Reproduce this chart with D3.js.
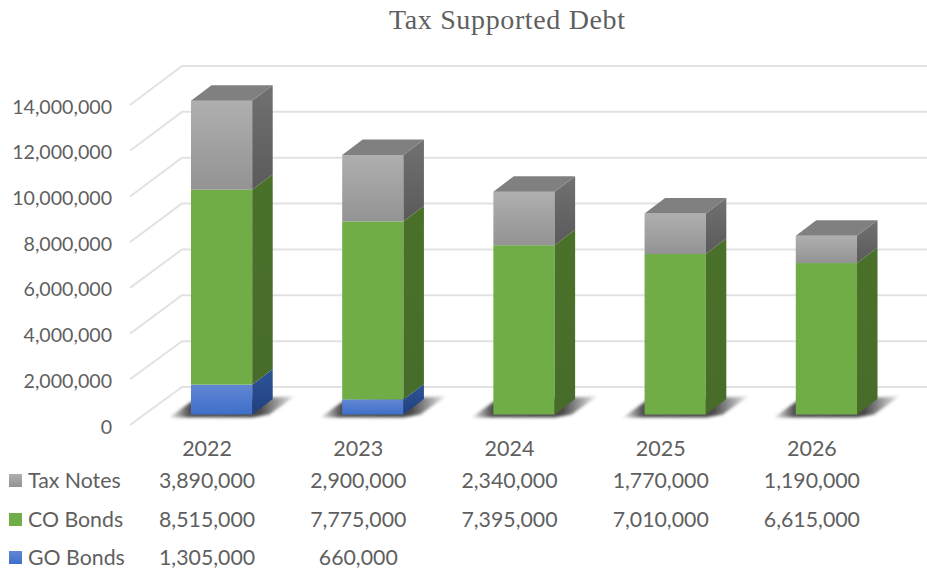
<!DOCTYPE html>
<html>
<head>
<meta charset="utf-8">
<script src="https://cdn.jsdelivr.net/npm/d3@7"></script>
<style>
html,body{margin:0;padding:0;background:#fff;}
svg{display:block;}
text{font-family:Lato,"Open Sans",sans-serif;fill:#5f5f5f;}
</style>
</head>
<body>
<svg id="chart" width="927" height="569"></svg>
<script>
// Stacked 3D column chart of tax supported debt with a data table beneath it
const years = ["2022", "2023", "2024", "2025", "2026"];
const goBonds = [1305000, 660000, 0, 0, 0];
const coBonds = [8515000, 7775000, 7395000, 7010000, 6615000];
const taxNotes = [3890000, 2900000, 2340000, 1770000, 1190000];
const yTicks = [0, 2000000, 4000000, 6000000, 8000000, 10000000, 12000000, 14000000];
const seriesNames = ["Tax Notes", "CO Bonds", "GO Bonds"];

const svg = d3.select("#chart");
const defs = svg.append("defs");
const fmt = d3.format(",");

// Vertical scales for the floor-front edge, the back wall and the bar front plane
const yAxisFront = d3.scaleLinear().domain([0, 14000000]).range([425, 105]);
const yWall = d3.scaleLinear().domain([0, 14000000]).range([387, 66]);
const yBar = d3.scaleLinear().domain([0, 14000000]).range([414.5, 94]);
const x = d3.scaleBand().domain(years).range([146, 902]).paddingInner(0.595).paddingOuter(0.2975);
const depthX = 20.5, depthY = -15.5;
const wallLeft = 182, frontLeft = 130;

function gradient(id, top, bottom) {
  const g = defs.append("linearGradient").attr("id", id)
    .attr("x1", 0).attr("y1", 0).attr("x2", 0).attr("y2", 1);
  g.append("stop").attr("offset", "0%").attr("stop-color", top);
  g.append("stop").attr("offset", "100%").attr("stop-color", bottom);
}
gradient("taxFront", "#afafaf", "#939393");
gradient("taxSide", "#717171", "#5a5a5a");
gradient("coFront", "#70ad47", "#70ad47");
gradient("coSide", "#4a7129", "#476c2a");
gradient("goFront", "#6287d3", "#3f6fca");
gradient("goSide", "#2f5597", "#20407f");
defs.append("filter").attr("id", "soft")
  .attr("x", "-20%").attr("y", "-40%").attr("width", "140%").attr("height", "180%")
  .append("feGaussianBlur").attr("stdDeviation", 1.6);

// Floor shadow fades out towards both of its ends
const shadowFill = defs.append("linearGradient").attr("id", "shadowFill")
  .attr("x1", 0).attr("y1", 0).attr("x2", 1).attr("y2", 0);
[[0, 0.05], [0.16, 0.85], [0.72, 0.9], [1, 0.1]].forEach(([o, a]) => {
  shadowFill.append("stop").attr("offset", o).attr("stop-color", "#333").attr("stop-opacity", a);
});

// Title
svg.append("text").attr("x", 507).attr("y", 29).attr("text-anchor", "middle")
  .attr("textLength", 236).attr("lengthAdjust", "spacing")
  .style("font-family", "'Liberation Serif',serif").style("font-size", "28px")
  .text("Tax Supported Debt");

// Back wall and side wall gridlines
const grid = svg.append("g").attr("fill", "none").attr("stroke", "#e2e2e2").attr("stroke-width", 2);
grid.selectAll("polyline").data(yTicks).join("polyline")
  .attr("points", d => `${frontLeft},${yAxisFront(d)} ${wallLeft},${yWall(d)} 927,${yWall(d)}`);

// Value axis labels
svg.append("g").selectAll("text").data(yTicks).join("text")
  .attr("x", 112).attr("y", d => yAxisFront(d) + 8.5)
  .attr("text-anchor", "end").style("font-size", "19.6px")
  .text(d => fmt(d));

// Floor shadows
const shadowG = svg.append("g").attr("filter", "url(#soft)");
shadowG.selectAll("path").data(years).join("path")
  .attr("fill", "url(#shadowFill)")
  .attr("d", y => {
    const x0 = x(y), x1 = x0 + x.bandwidth(), b = yBar(0);
    return `M${x0 - 22},${b + 3} L${x0 + 2},${b - 14} L${x1 + 42},${b - 18} L${x1 + 17},${b} L${x1},${b + 3} Z`;
  });

// Stacked columns, bottom series first
const layers = [
  { key: "go", values: goBonds },
  { key: "co", values: coBonds },
  { key: "tax", values: taxNotes }
];
const bars = svg.append("g");
years.forEach((year, i) => {
  const x0 = x(year), w = x.bandwidth();
  let base = 0;
  layers.forEach(layer => {
    const v = layer.values[i];
    if (!v) return;
    const top = base + v;
    const yTop = yBar(top), yBase = yBar(base);
    bars.append("rect").attr("x", x0).attr("y", yTop).attr("width", w).attr("height", yBase - yTop)
      .attr("fill", `url(#${layer.key}Front)`);
    bars.append("path")
      .attr("d", `M${x0 + w},${yTop} L${x0 + w + depthX},${yTop + depthY} L${x0 + w + depthX},${yBase + depthY} L${x0 + w},${yBase} Z`)
      .attr("fill", `url(#${layer.key}Side)`);
    base = top;
  });
  const yTop = yBar(base);
  bars.append("path")
    .attr("d", `M${x0},${yTop} L${x0 + depthX},${yTop + depthY} L${x0 + w + depthX},${yTop + depthY} L${x0 + w},${yTop} Z`)
    .attr("fill", "#808080");
});

// Data table: category header and one row per series
const colCenter = y => x(y) + x.bandwidth() / 2 - 14.5;
svg.append("g").selectAll("text").data(years).join("text")
  .attr("x", colCenter).attr("y", 456).attr("text-anchor", "middle")
  .style("font-size", "21.5px").text(d => d);

const rows = [
  { name: seriesNames[0], values: taxNotes, y: 488, swatch: "url(#taxFront)" },
  { name: seriesNames[1], values: coBonds, y: 527, swatch: "url(#coFront)" },
  { name: seriesNames[2], values: goBonds, y: 565, swatch: "url(#goFront)" }
];
rows.forEach(row => {
  svg.append("rect").attr("x", 9).attr("y", row.y - 14).attr("width", 13).attr("height", 13)
    .attr("fill", row.swatch);
  svg.append("text").attr("x", 28).attr("y", row.y).style("font-size", "21.3px").text(row.name);
  svg.append("g").selectAll("text").data(years).join("text")
    .attr("x", colCenter).attr("y", row.y).attr("text-anchor", "middle")
    .style("font-size", "21.3px")
    .text((d, i) => row.values[i] ? fmt(row.values[i]) : "");
});
</script>
</body>
</html>
